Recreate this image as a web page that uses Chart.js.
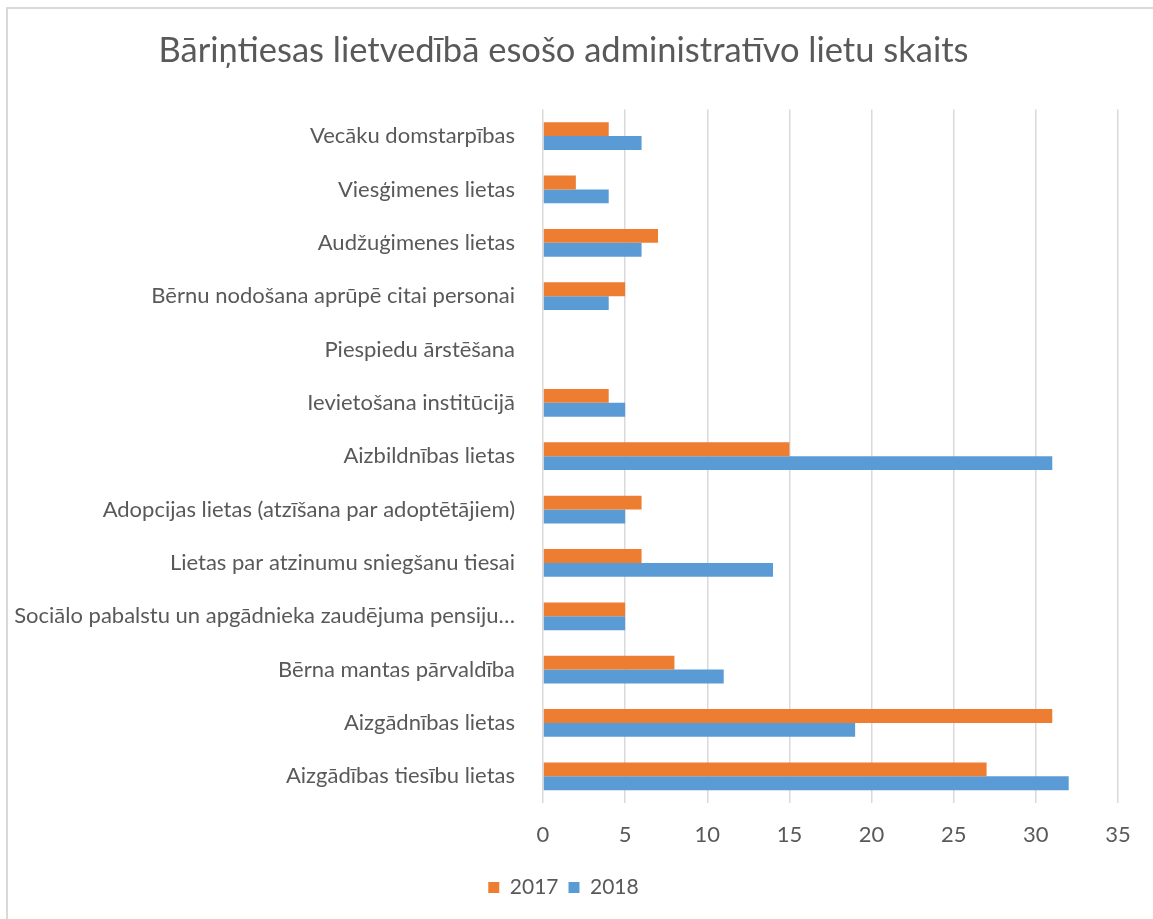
<!DOCTYPE html>
<html>
<head>
<meta charset="utf-8">
<script src="https://cdn.jsdelivr.net/npm/chart.js@4/dist/chart.umd.min.js"></script>
<style>
  html, body { margin: 0; padding: 0; background: #fff; }
  #frame {
    position: absolute; left: 6px; top: 7px; width: 1147px; height: 912px;
    border-left: 2px solid #d9d9d9; border-top: 2px solid #d9d9d9;
  }
  #wrap { position: absolute; left: 1px; top: 1px; width: 1144px; height: 909px; }
</style>
</head>
<body>
<div id="frame"><div id="wrap"><canvas id="chart"></canvas></div></div>
<script>
// categories top to bottom, as they appear in the picture
const categories = [
    'Vecāku domstarpības',
    'Viesģimenes lietas',
    'Audžuģimenes lietas',
    'Bērnu nodošana aprūpē citai personai',
    'Piespiedu ārstēšana',
    'Ievietošana institūcijā',
    'Aizbildnības lietas',
    'Adopcijas lietas (atzīšana par adoptētājiem)',
    'Lietas par atzinumu sniegšanu tiesai',
    'Sociālo pabalstu un apgādnieka zaudējuma pensiju…',
    'Bērna mantas pārvaldība',
    'Aizgādnības lietas',
    'Aizgādības tiesību lietas'
];
const values2017 = [4, 2, 7, 5, 0, 4, 15, 6, 6, 5, 8, 31, 27];
const values2018 = [6, 4, 6, 4, 0, 5, 31, 5, 14, 5, 11, 19, 32];
const xTicks = [0, 5, 10, 15, 20, 25, 30, 35];

const textColor = '#595959';
const fontFamily = 'Lato, "Open Sans", sans-serif';

document.addEventListener('DOMContentLoaded', () => {
    const ctx = document.getElementById('chart').getContext('2d');
    new Chart(ctx, {
        type: 'bar',
        data: {
            labels: categories,
            datasets: [{
                label: '2017',
                data: values2017,
                backgroundColor: '#ed7d31',
                categoryPercentage: 0.52,
                barPercentage: 1
            }, {
                label: '2018',
                data: values2018,
                backgroundColor: '#5b9bd5',
                categoryPercentage: 0.52,
                barPercentage: 1
            }]
        },
        options: {
            indexAxis: 'y',
            responsive: true,
            maintainAspectRatio: false,
            animation: false,
            layout: { padding: { left: 0, right: 35, top: 0, bottom: 11 } },
            plugins: {
                title: {
                    display: true,
                    text: 'Bāriņtiesas lietvedībā esošo administratīvo lietu skaits',
                    color: textColor,
                    font: { family: fontFamily, size: 34.5, weight: 'normal' },
                    padding: { top: 20, bottom: 38 }
                },
                legend: {
                    position: 'bottom',
                    labels: {
                        color: textColor,
                        font: { family: fontFamily, size: 21 },
                        boxWidth: 11,
                        boxHeight: 11,
                        padding: 10
                    }
                },
                tooltip: { enabled: false }
            },
            scales: {
                x: {
                    min: 0,
                    max: 35,
                    afterBuildTicks: (scale) => { scale.ticks = xTicks.map(v => ({ value: v })); },
                    afterFit: (scale) => { scale.height = 64; },
                    grid: { color: '#d9d9d9', lineWidth: 1.5, drawTicks: false },
                    border: { display: false },
                    ticks: {
                        color: textColor,
                        font: { family: fontFamily, size: 22 },
                        padding: 19
                    }
                },
                y: {
                    afterFit: (scale) => { scale.width = 534; },
                    grid: { display: false, drawTicks: false },
                    border: { display: false },
                    ticks: {
                        color: textColor,
                        font: { family: fontFamily, size: 22 },
                        padding: 28,
                        autoSkip: false
                    }
                }
            }
        }
    });
});
</script>
</body>
</html>
